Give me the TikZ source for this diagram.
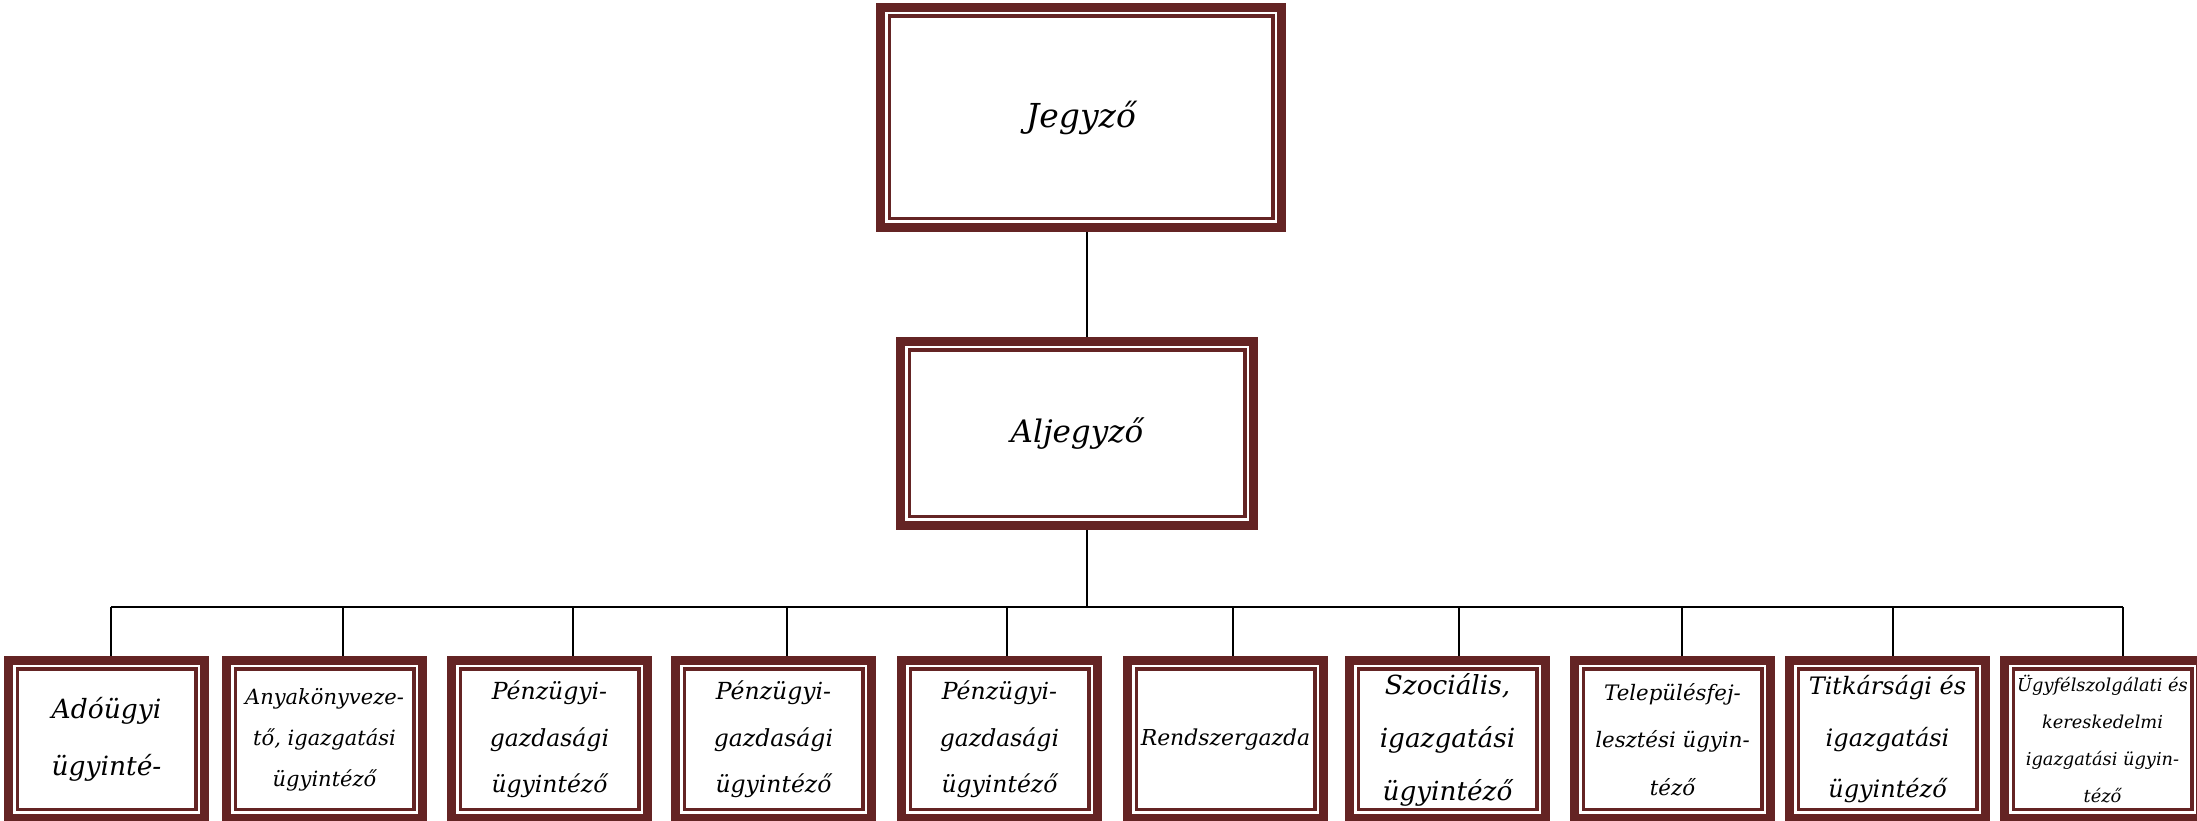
\documentclass[tikz,border=0pt]{standalone}
\usepackage{fontspec}
\setmainfont{DejaVu Serif}
\definecolor{framecol}{rgb}{0.392,0.141,0.141}
\tikzset{
  orgbox/.style={draw=framecol, line width=9bp, fill=white, inner sep=0pt, align=center, text=black},
  lowbox/.style={orgbox, minimum width=196bp, minimum height=158bp},
  boxfont/.style 2 args={font=\itshape\fontsize{#1bp}{#2bp}\selectfont},
  wire/.style={draw=black, line width=2bp},
}
\begin{document}
\begin{tikzpicture}[line join=miter]
  \useasboundingbox (0bp,0bp) rectangle (2197bp,821bp);
%%
  % Node: jegyzo
  \node[orgbox, boxfont={33}{40}, minimum width=401bp, minimum height=220bp] (jegyzo) at (1081bp,703.5bp) {Jegyző};
  % Node: aljegyzo
  \node[orgbox, boxfont={31}{40}, minimum width=353bp, minimum height=184bp] (aljegyzo) at (1077bp,387.5bp) {Aljegyző};
  % Node: adougyi
  \node[lowbox, boxfont={26.5}{57}] (adougyi) at (106.5bp,81.5bp) {Adóügyi\\ügyinté-};
  % Node: anyakonyv
  \node[lowbox, boxfont={21}{41}] (anyakonyv) at (324.5bp,81.5bp) {Anyakönyveze-\\tő, igazgatási\\ügyintéző};
  % Node: penzugy1
  \node[lowbox, boxfont={23.5}{46.5}] (penzugy1) at (549.5bp,81.5bp) {Pénzügyi-\\gazdasági\\ügyintéző};
  % Node: penzugy2
  \node[lowbox, boxfont={23.5}{46.5}] (penzugy2) at (773.5bp,81.5bp) {Pénzügyi-\\gazdasági\\ügyintéző};
  % Node: penzugy3
  \node[lowbox, boxfont={23.5}{46.5}] (penzugy3) at (999.5bp,81.5bp) {Pénzügyi-\\gazdasági\\ügyintéző};
  % Node: rendszer
  \node[lowbox, boxfont={21.9}{46.5}] (rendszer) at (1225.5bp,81.5bp) {Rendszergazda};
  % Node: szocialis
  \node[lowbox, boxfont={26.3}{53}] (szocialis) at (1447.5bp,81.5bp) {Szociális,\\igazgatási\\ügyintéző};
  % Node: telepules
  \node[lowbox, boxfont={21.3}{47.5}] (telepules) at (1672.5bp,81.5bp) {Településfej-\\lesztési ügyin-\\téző};
  % Node: titkarsag
  \node[lowbox, boxfont={24}{51.5}] (titkarsag) at (1887.5bp,81.5bp) {Titkársági és\\igazgatási\\ügyintéző};
  % Node: ugyfel
  \node[lowbox, boxfont={17.8}{37}] (ugyfel) at (2102.5bp,81.5bp) {Ügyfélszolgálati és\\kereskedelmi\\igazgatási ügyin-\\téző};
  % inner thin frames
  \foreach \n in {jegyzo,aljegyzo,adougyi,anyakonyv,penzugy1,penzugy2,penzugy3,rendszer,szocialis,telepules,titkarsag,ugyfel}
    \draw[framecol, line width=3.5bp] ([shift={(13.25bp,13.25bp)}]\n.south west) rectangle ([shift={(-13.25bp,-13.25bp)}]\n.north east);
%%
  \coordinate (bus) at (1087bp,214bp);
  \coordinate (tap1) at (111bp,214bp);
  \coordinate (tap2) at (343bp,214bp);
  \coordinate (tap3) at (573bp,214bp);
  \coordinate (tap4) at (787bp,214bp);
  \coordinate (tap5) at (1007bp,214bp);
  \coordinate (tap6) at (1233bp,214bp);
  \coordinate (tap7) at (1459bp,214bp);
  \coordinate (tap8) at (1682bp,214bp);
  \coordinate (tap9) at (1893bp,214bp);
  \coordinate (tap10) at (2123bp,214bp);
  % Edge: jegyzo -> aljegyzo
  \draw[wire] (jegyzo.south -| bus) -- (aljegyzo.north -| bus);
  % Edge: aljegyzo -> bus
  \draw[wire] (aljegyzo.south -| bus) -- (bus);
  \draw[wire] (tap1) -- (tap10);
  % Edge: bus -> lower row
  \draw[wire] (tap1) -- (tap1 |- adougyi.north);
  \draw[wire] (tap2) -- (tap2 |- anyakonyv.north);
  \draw[wire] (tap3) -- (tap3 |- penzugy1.north);
  \draw[wire] (tap4) -- (tap4 |- penzugy2.north);
  \draw[wire] (tap5) -- (tap5 |- penzugy3.north);
  \draw[wire] (tap6) -- (tap6 |- rendszer.north);
  \draw[wire] (tap7) -- (tap7 |- szocialis.north);
  \draw[wire] (tap8) -- (tap8 |- telepules.north);
  \draw[wire] (tap9) -- (tap9 |- titkarsag.north);
  \draw[wire] (tap10) -- (tap10 |- ugyfel.north);
%
\end{tikzpicture}
\end{document}
